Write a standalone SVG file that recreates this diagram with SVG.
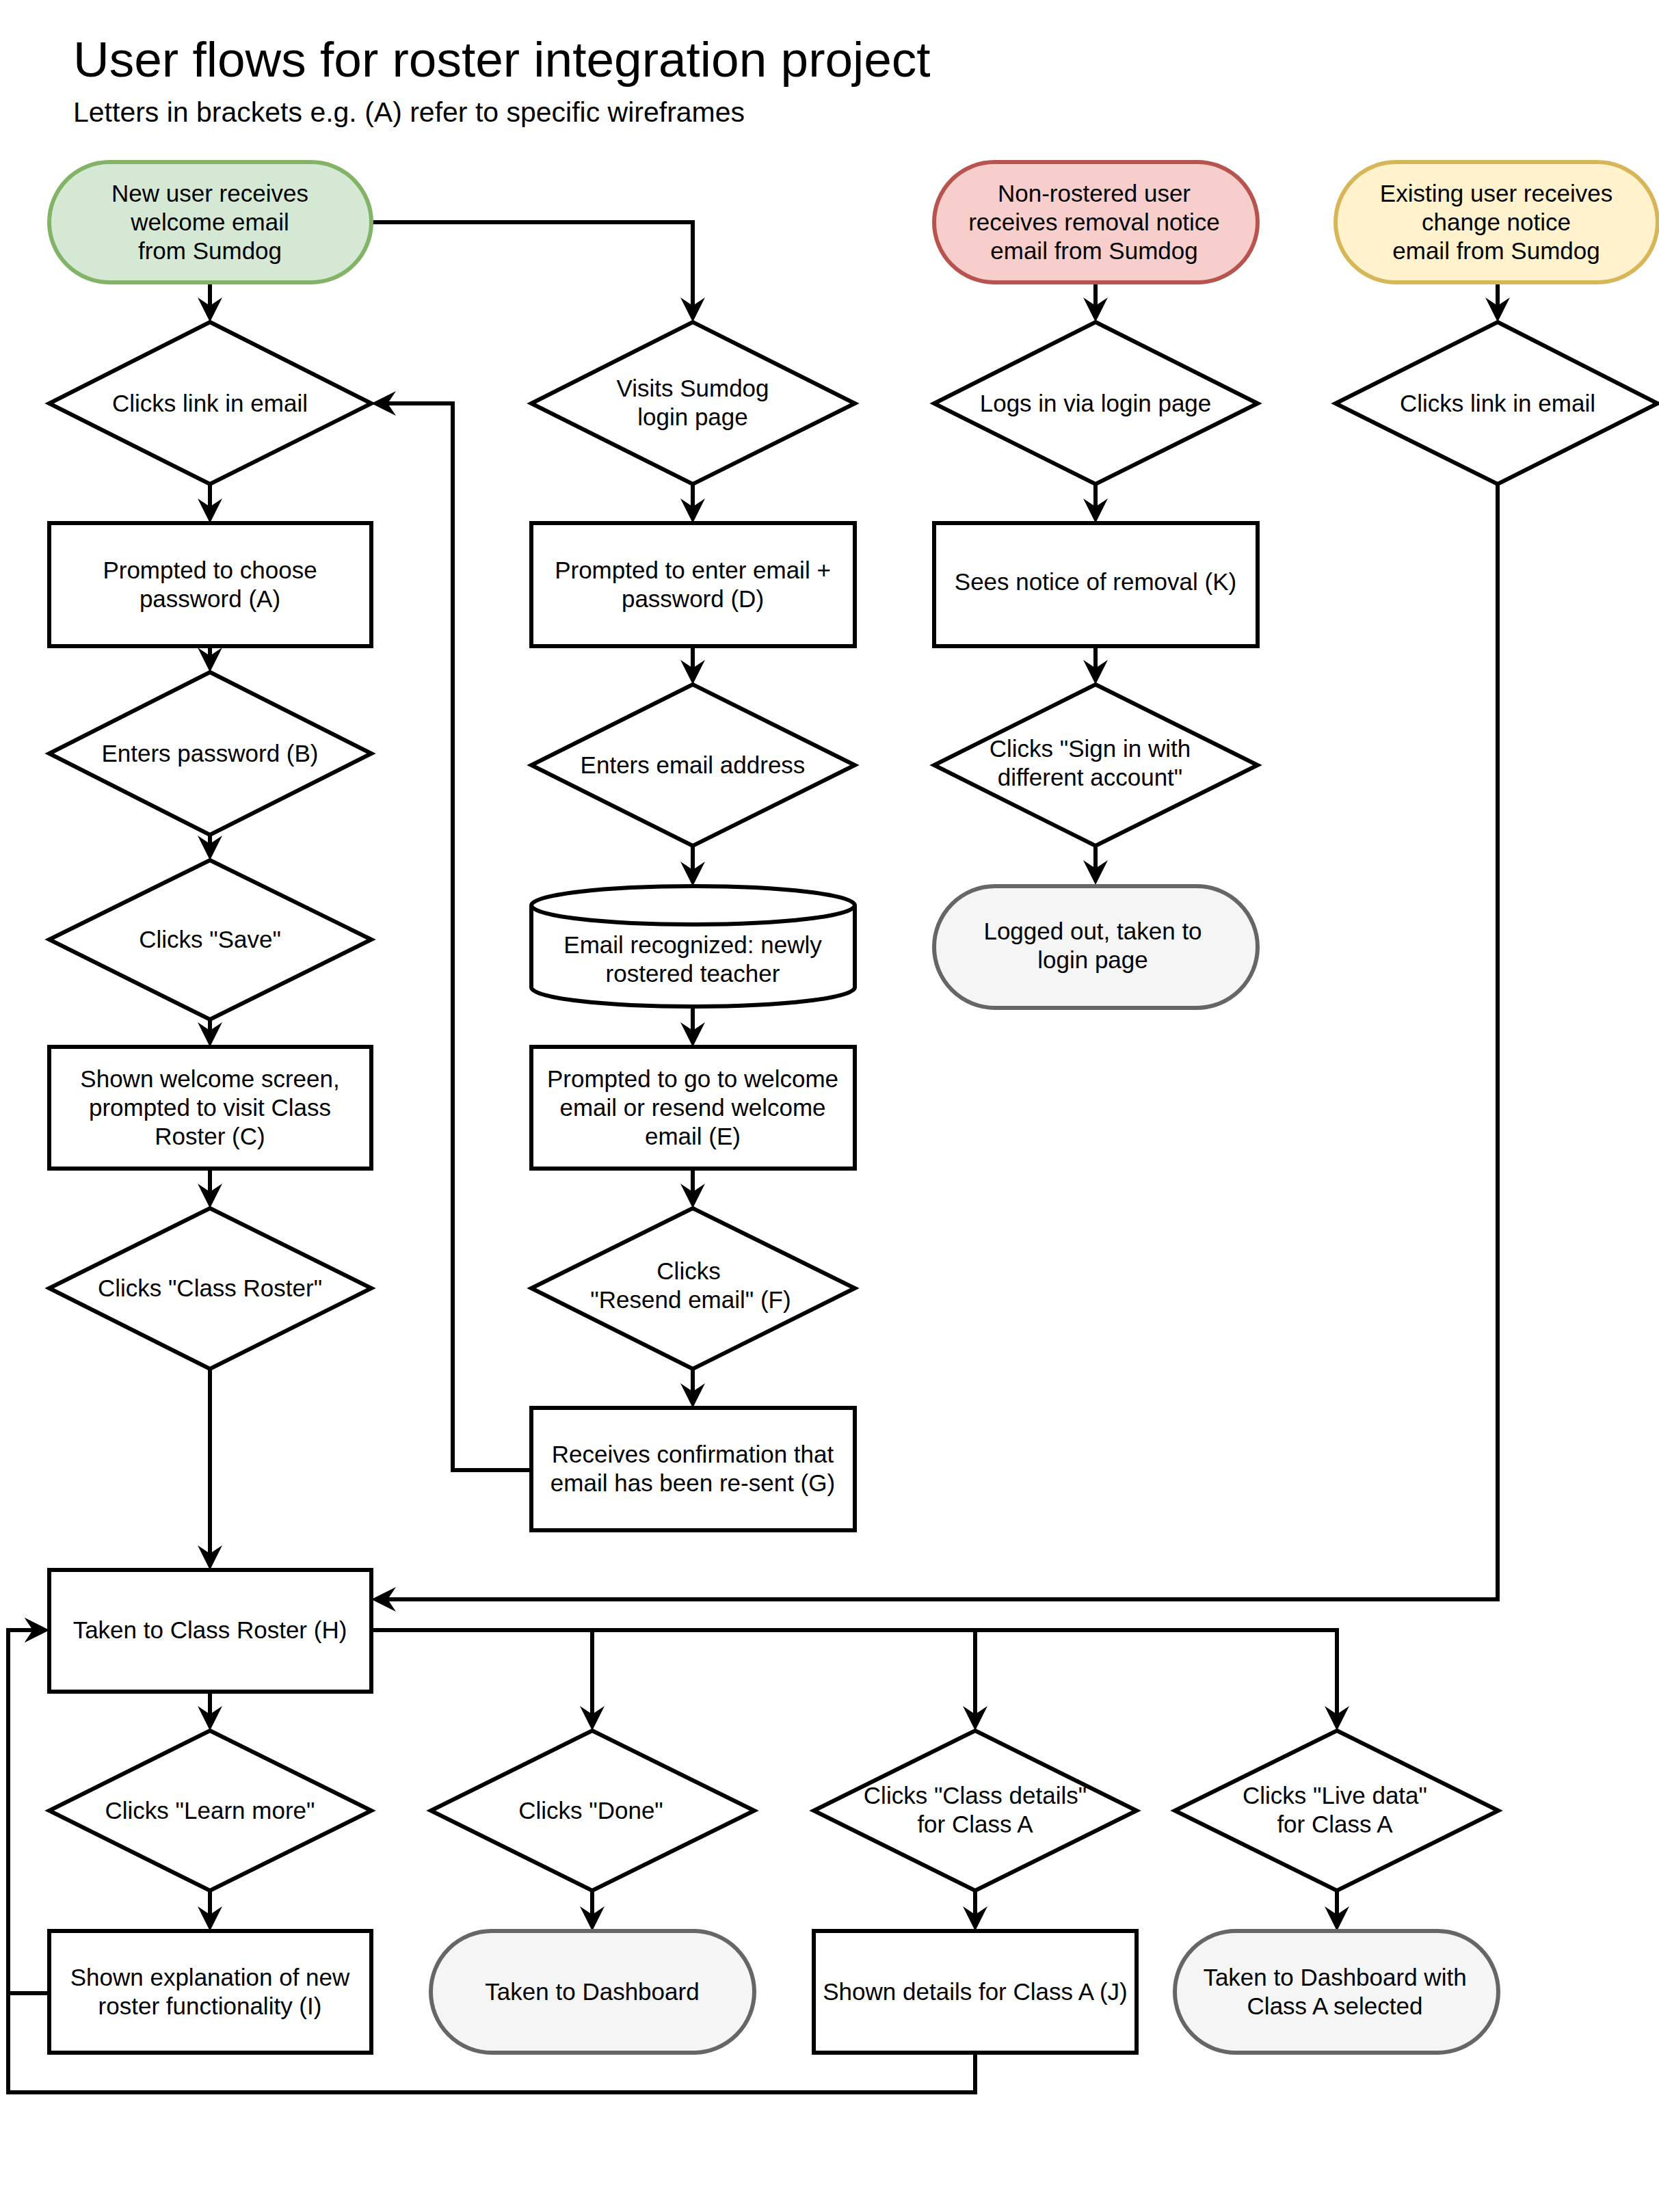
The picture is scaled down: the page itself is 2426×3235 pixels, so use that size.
<svg xmlns="http://www.w3.org/2000/svg" width="2426" height="3235" viewBox="0 0 2426 3235">
<defs>
<style>
.n{fill:#ffffff;stroke:#000000;stroke-width:6;stroke-linejoin:miter}
.green{fill:#d5e8d4;stroke:#82b366;stroke-width:6}
.red{fill:#f8cecc;stroke:#b85450;stroke-width:6}
.yellow{fill:#fff2cc;stroke:#d6b656;stroke-width:6}
.gray{fill:#f5f5f5;stroke:#666666;stroke-width:6}
text{font-family:"Liberation Sans",Arial,Helvetica,sans-serif;fill:#000000}
.t{font-size:35px;text-anchor:middle}
.c{fill:none;stroke:#000000;stroke-width:6;stroke-linejoin:miter;marker-end:url(#arr)}
</style>
<marker id="arr" markerUnits="userSpaceOnUse" markerWidth="36" markerHeight="36" viewBox="0 0 36 36" refX="12" refY="18" orient="auto">
<path d="M0,0 L36,18 L0,36 L12,18 Z" fill="#000000"/>
</marker>
</defs>
<rect x="0" y="0" width="2426" height="3235" fill="#ffffff"/>
<text x="107" y="112" font-size="73">User flows for roster integration project</text>
<text x="107" y="178" font-size="41">Letters in brackets e.g. (A) refer to specific wireframes</text>

<g id="connectors">
<path class="c" d="M307,413 V447"/>
<path class="c" d="M543,325 H1013 V447"/>
<path class="c" d="M307,708 V741"/>
<path class="c" d="M307,945 V959"/>
<path class="c" d="M307,1221 V1234"/>
<path class="c" d="M307,1491 V1507"/>
<path class="c" d="M307,1709 V1743"/>
<path class="c" d="M307,2002 V2272"/>
<path class="c" d="M1013,708 V741"/>
<path class="c" d="M1013,945 V977"/>
<path class="c" d="M1013,1237 V1272"/>
<path class="c" d="M1013,1472 V1507"/>
<path class="c" d="M1013,1709 V1743"/>
<path class="c" d="M1013,2002 V2035"/>
<path class="c" d="M777,2150 H662 V590 H567"/>
<path class="c" d="M1602,415 V447"/>
<path class="c" d="M1602,708 V741"/>
<path class="c" d="M1602,945 V977"/>
<path class="c" d="M1602,1237 V1270"/>
<path class="c" d="M2190,415 V447"/>
<path class="c" d="M2190,708 V2339 H567"/>
<path class="c" d="M543,2384 H866 V2507"/>
<path class="c" d="M543,2384 H1426 V2507"/>
<path class="c" d="M543,2384 H1955 V2507"/>
<path class="c" d="M307,2474 V2507"/>
<path class="c" d="M307,2765 V2800"/>
<path class="c" d="M866,2765 V2800"/>
<path class="c" d="M1426,2765 V2800"/>
<path class="c" d="M1955,2765 V2800"/>
<path class="c" d="M72,2915 H12 V2384 H48"/>
<path class="c" d="M1426,3002 V3060 H12 V2384 H48"/>
</g>

<g id="start-new-user">
<rect class="green" x="72" y="237" width="471" height="176" rx="88" ry="88"/>
<text class="t"><tspan x="307" y="295">New user receives</tspan><tspan x="307" y="337">welcome email</tspan><tspan x="307" y="379">from Sumdog</tspan></text>
</g>
<g id="clicks-link-1">
<polygon class="n" points="307,471 543,590 307,708 72,590"/>
<text class="t" x="307" y="602">Clicks link in email</text>
</g>
<g id="prompt-password-A">
<rect class="n" x="72" y="765" width="471" height="180"/>
<text class="t"><tspan x="307" y="846">Prompted to choose</tspan><tspan x="307" y="888">password (A)</tspan></text>
</g>
<g id="enters-password-B">
<polygon class="n" points="307,983 543,1102 307,1221 72,1102"/>
<text class="t" x="307" y="1114">Enters password (B)</text>
</g>
<g id="clicks-save">
<polygon class="n" points="307,1258 543,1374 307,1491 72,1374"/>
<text class="t" x="307" y="1386">Clicks "Save"</text>
</g>
<g id="welcome-C">
<rect class="n" x="72" y="1531" width="471" height="178"/>
<text class="t"><tspan x="307" y="1590">Shown welcome screen,</tspan><tspan x="307" y="1632">prompted to visit Class</tspan><tspan x="307" y="1674">Roster (C)</tspan></text>
</g>
<g id="clicks-class-roster">
<polygon class="n" points="307,1767 543,1884 307,2002 72,1884"/>
<text class="t" x="307" y="1896">Clicks "Class Roster"</text>
</g>
<g id="class-roster-H">
<rect class="n" x="72" y="2296" width="471" height="178"/>
<text class="t" x="307" y="2396">Taken to Class Roster (H)</text>
</g>
<g id="clicks-learn-more">
<polygon class="n" points="307,2531 543,2648 307,2765 72,2648"/>
<text class="t" x="307" y="2660">Clicks "Learn more"</text>
</g>
<g id="explanation-I">
<rect class="n" x="72" y="2824" width="471" height="178"/>
<text class="t"><tspan x="307" y="2904">Shown explanation of new</tspan><tspan x="307" y="2946">roster functionality (I)</tspan></text>
</g>

<g id="visits-login">
<polygon class="n" points="1013,471 1250,590 1013,708 777,590"/>
<text class="t"><tspan x="1013" y="580">Visits Sumdog</tspan><tspan x="1013" y="622">login page</tspan></text>
</g>
<g id="prompt-email-D">
<rect class="n" x="777" y="765" width="473" height="180"/>
<text class="t"><tspan x="1013" y="846">Prompted to enter email +</tspan><tspan x="1013" y="888">password (D)</tspan></text>
</g>
<g id="enters-email">
<polygon class="n" points="1013,1001 1250,1119 1013,1237 777,1119"/>
<text class="t" x="1013" y="1131">Enters email address</text>
</g>
<g id="email-recognized">
<path class="n" d="M777,1324 A236.5,28 0 0 1 1250,1324 L1250,1444 A236.5,28 0 0 1 777,1444 Z"/>
<path class="n" fill="none" d="M777,1324 A236.5,28 0 0 0 1250,1324"/>
<text class="t"><tspan x="1013" y="1394">Email recognized: newly</tspan><tspan x="1013" y="1436">rostered teacher</tspan></text>
</g>
<g id="prompt-resend-E">
<rect class="n" x="777" y="1531" width="473" height="178"/>
<text class="t"><tspan x="1013" y="1590">Prompted to go to welcome</tspan><tspan x="1013" y="1632">email or resend welcome</tspan><tspan x="1013" y="1674">email (E)</tspan></text>
</g>
<g id="clicks-resend-F">
<polygon class="n" points="1013,1767 1250,1884 1013,2002 777,1884"/>
<text class="t"><tspan x="1007" y="1871">Clicks</tspan><tspan x="1010" y="1913">"Resend email" (F)</tspan></text>
</g>
<g id="confirmation-G">
<rect class="n" x="777" y="2059" width="473" height="179"/>
<text class="t"><tspan x="1013" y="2139">Receives confirmation that</tspan><tspan x="1013" y="2181">email has been re-sent (G)</tspan></text>
</g>

<g id="start-non-rostered">
<rect class="red" x="1366" y="237" width="473" height="176" rx="88" ry="88"/>
<text class="t"><tspan x="1600" y="295">Non-rostered user</tspan><tspan x="1600" y="337">receives removal notice</tspan><tspan x="1600" y="379">email from Sumdog</tspan></text>
</g>
<g id="logs-in">
<polygon class="n" points="1602,471 1839,590 1602,708 1366,590"/>
<text class="t" x="1602" y="602">Logs in via login page</text>
</g>
<g id="removal-K">
<rect class="n" x="1366" y="765" width="473" height="180"/>
<text class="t" x="1602" y="863">Sees notice of removal (K)</text>
</g>
<g id="clicks-sign-in">
<polygon class="n" points="1602,1001 1839,1119 1602,1237 1366,1119"/>
<text class="t"><tspan x="1594" y="1107">Clicks "Sign in with</tspan><tspan x="1594" y="1149">different account"</tspan></text>
</g>
<g id="logged-out">
<rect class="gray" x="1366" y="1296" width="473" height="178" rx="89" ry="89"/>
<text class="t"><tspan x="1598" y="1374">Logged out, taken to</tspan><tspan x="1598" y="1416">login page</tspan></text>
</g>

<g id="start-existing">
<rect class="yellow" x="1953" y="237" width="471" height="176" rx="88" ry="88"/>
<text class="t"><tspan x="2188" y="295">Existing user receives</tspan><tspan x="2188" y="337">change notice</tspan><tspan x="2188" y="379">email from Sumdog</tspan></text>
</g>
<g id="clicks-link-2">
<polygon class="n" points="2190,471 2424,590 2190,708 1953,590"/>
<text class="t" x="2190" y="602">Clicks link in email</text>
</g>

<g id="clicks-done">
<polygon class="n" points="866,2531 1103,2648 866,2765 630,2648"/>
<text class="t" x="864" y="2660">Clicks "Done"</text>
</g>
<g id="dashboard">
<rect class="gray" x="630" y="2824" width="473" height="178" rx="89" ry="89"/>
<text class="t" x="866" y="2925">Taken to Dashboard</text>
</g>
<g id="clicks-class-details">
<polygon class="n" points="1426,2531 1662,2648 1426,2765 1190,2648"/>
<text class="t"><tspan x="1426" y="2638">Clicks "Class details"</tspan><tspan x="1426" y="2680">for Class A</tspan></text>
</g>
<g id="details-J">
<rect class="n" x="1190" y="2824" width="472" height="178"/>
<text class="t" x="1426" y="2925">Shown details for Class A (J)</text>
</g>
<g id="clicks-live-data">
<polygon class="n" points="1955,2531 2191,2648 1955,2765 1718,2648"/>
<text class="t"><tspan x="1952" y="2638">Clicks "Live data"</tspan><tspan x="1952" y="2680">for Class A</tspan></text>
</g>
<g id="dashboard-class-A">
<rect class="gray" x="1718" y="2824" width="473" height="178" rx="89" ry="89"/>
<text class="t"><tspan x="1952" y="2904">Taken to Dashboard with</tspan><tspan x="1952" y="2946">Class A selected</tspan></text>
</g>
</svg>
